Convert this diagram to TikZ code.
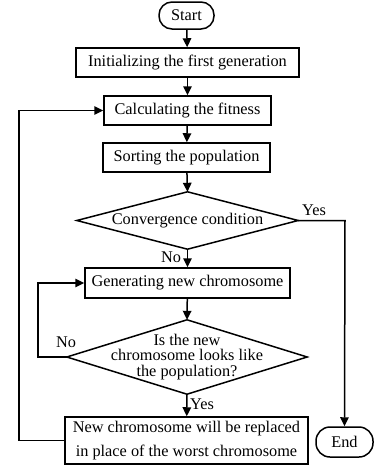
\documentclass[tikz,border=0pt]{standalone}
\usepackage{fontspec}
\setmainfont{Liberation Serif}
\usetikzlibrary{arrows.meta}
\begin{document}
\begin{tikzpicture}[x=1pt,y=-1pt,
  every node/.style={font=\fontsize{16.3}{16}\selectfont, inner sep=0pt, align=center},
  box/.style={draw, line width=1.5pt, minimum width=#1},
  term/.style={draw, line width=1.5pt, rounded corners=13pt},
  dia/.style={minimum width=#1},
  conn/.style={line width=1.5pt, -{Triangle[length=9pt,width=8.5pt]}},
  plain/.style={line width=1.5pt}]
\useasboundingbox (0,0) rectangle (374,469);
\node[term, minimum width=55pt, minimum height=27pt] (start) at (186.5,15.5) {Start};
\node[box=223pt, minimum height=29pt] (init) at (187.5,62.5) {Initializing the first generation};
\node[box=167pt, minimum height=29pt] (calc) at (187.5,110.5) {Calculating the fitness};
\node[box=167pt, minimum height=29pt] (sort) at (186.5,157.5) {Sorting the population};
\node[dia=221pt, minimum height=57pt] (conv) at (187.5,220.5) {Convergence condition};
\draw[plain] (conv.north) -- (conv.east) -- (conv.south) -- (conv.west) -- cycle;
\node[box=205pt, minimum height=30pt] (gen) at (187.5,283) {Generating new chromosome};
\node[dia=240pt, minimum height=74pt, font=\fontsize{16.3}{15.5}\selectfont] (like) at (187,357) {Is the new\\chromosome looks like\\the population?};
\draw[plain] (like.north) -- (like.east) -- (like.south) -- (like.west) -- cycle;
\node[box=243pt, minimum height=47pt, font=\fontsize{16.3}{24}\selectfont] (repl) at (186.5,440.5) {New chromosome will be replaced\\in place of the worst chromosome};
\node[term, minimum width=57pt, minimum height=30pt, rounded corners=14pt] (end) at (344.5,442) {End};
\coordinate (yr) at (345,220.5);
\coordinate (nl) at (38,357);
\coordinate (nt) at (38,283);
\coordinate (ll) at (19,440.5);
\coordinate (lt) at (19,110.5);
\draw[conn] (start) -- (init);
\draw[conn] (init) -- (calc);
\draw[conn] (calc) -- (sort);
\draw[conn] (sort) -- (conv.north);
\draw[conn] (conv.south) -- (gen);
\draw[conn] (gen) -- (like.north);
\draw[conn] (like.south) -- (repl);
\draw[conn] (conv.east) -- (yr) -- (end.north);
\draw[conn] (like.west) -- (nl) -- (nt) -- (gen.west);
\draw[conn] (repl.west) -- (ll) -- (lt) -- (calc.west);
\node (yes1) at (314,210) {Yes};
\node (no1) at (171,257) {No};
\node (no2) at (66,342) {No};
\node (yes2) at (202,404) {Yes};
\end{tikzpicture}
\end{document}
